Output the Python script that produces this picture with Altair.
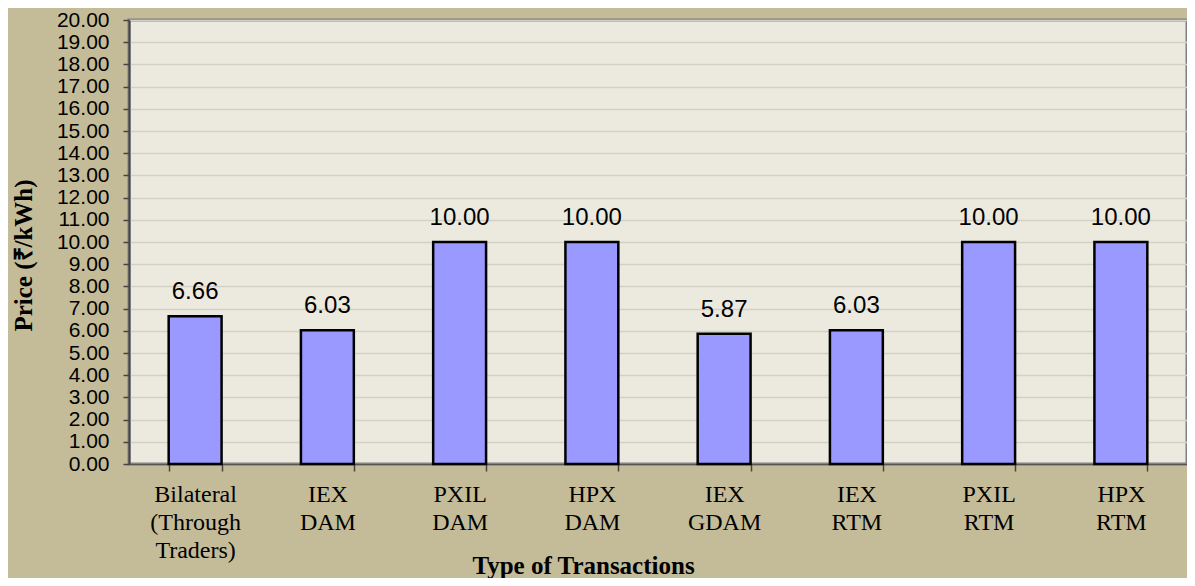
import altair as alt
import pandas as pd

categories = ["Bilateral\n(Through\nTraders)", "IEX\nDAM", "PXIL\nDAM", "HPX\nDAM",
              "IEX\nGDAM", "IEX\nRTM", "PXIL\nRTM", "HPX\nRTM"]
prices = [6.66, 6.03, 10.00, 10.00, 5.87, 6.03, 10.00, 10.00]
y_ticks = [0, 1, 2, 3, 4, 5, 6, 7, 8, 9, 10, 11, 12, 13, 14, 15, 16, 17, 18, 19, 20]

df = pd.DataFrame({"cat": categories, "price": prices})

x = alt.X("cat:N", sort=categories,
          scale=alt.Scale(paddingInner=0.6, paddingOuter=0.3),
          axis=alt.Axis(title="Type of Transactions", labelAngle=0,
                        labelExpr="split(datum.label, '\\n')",
                        labelFont="Liberation Serif", labelFontSize=24,
                        labelColor="black", labelLineHeight=28,
                        labelBaseline="top", labelPadding=11,
                        tickBand="extent", tickSize=7, tickColor="#444444",
                        tickWidth=1.5, domainColor="#555555", domainWidth=1.5,
                        titleFont="Liberation Serif", titleFontSize=25,
                        titleFontWeight="bold", titleColor="black",
                        titleX=454, titleY=109, titleBaseline="alphabetic",
                        titleAlign="center"))
y = alt.Y("price:Q", scale=alt.Scale(domain=[0, 20], nice=False),
          axis=alt.Axis(title="Price (₹/kWh)", values=y_ticks, format=".2f",
                        tickCount=40, labelOverlap=False,
                        labelFont="Liberation Sans", labelFontSize=21,
                        labelColor="black", labelPadding=14,
                        tickSize=6, tickColor="#444444", tickWidth=1.5,
                        domainColor="#444444", domainWidth=2,
                        gridColor="#D3D1C6", gridWidth=1.5,
                        titleFont="Liberation Serif", titleFontSize=25,
                        titleFontWeight="bold", titleColor="black",
                        titleX=-106, titleY=235, titleAngle=-90,
                        titleAlign="center", titleBaseline="middle"))

bars = alt.Chart(df).mark_bar(color="#9999FF", stroke="black",
                              strokeWidth=2.5).encode(x=x, y=y)
labels = alt.Chart(df).mark_text(font="Liberation Sans", fontSize=24,
                                 color="black", baseline="alphabetic",
                                 dy=-17).encode(
    x=alt.X("cat:N", sort=categories), y=alt.Y("price:Q"),
    text=alt.Text("price:Q", format=".2f"))

chart = (bars + labels).properties(
    width=1058, height=444,
    autosize=alt.AutoSizeParams(type="none"),
    padding={"left": 121, "top": 12, "right": 0, "bottom": 114},
    background="#C4BC98",
).configure_view(fill="#ECEADF", stroke="#808080", strokeWidth=3)

chart.save("out.html", embed_options={"renderer": "svg", "actions": False})
